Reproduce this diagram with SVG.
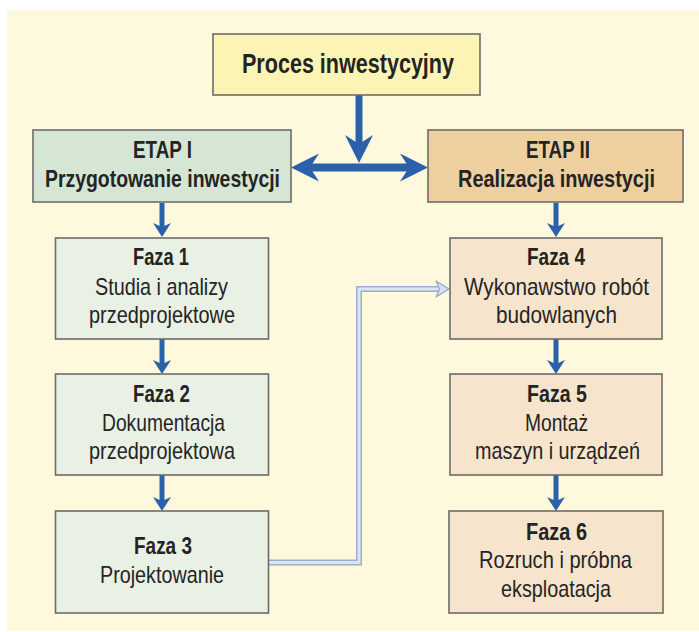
<svg xmlns="http://www.w3.org/2000/svg" width="699" height="632" viewBox="0 0 699 632">
  <style>
    .box { stroke: #6c6c6c; stroke-width: 1.6; }
    .top { fill: #fbf4b4; }
    .e1 { fill: #d6e6d4; }
    .e2 { fill: #eecf9f; }
    .f1 { fill: #e9f1e5; }
    .f2 { fill: #f6e4cd; }
    text { font-family: "Liberation Sans", Arial, sans-serif; fill: #242424; text-anchor: middle; }
    .b { font-weight: bold; }
    .t { font-size: 28px; }
    .h { font-size: 24px; }
    .fz { font-size: 23px; }
    .r { font-size: 24px; }
    .arr { stroke: #2b60aa; fill: none; }
  </style>
  <defs>
    <marker id="ah" markerUnits="userSpaceOnUse" viewBox="0 0 14 18" markerWidth="14" markerHeight="18" refX="6" refY="9" orient="auto">
      <path d="M0,0 L14,9 L0,18 L4,9 Z" fill="#2b60aa"/>
    </marker>
    <marker id="big" markerUnits="userSpaceOnUse" viewBox="0 0 28 28" markerWidth="28" markerHeight="28" refX="12" refY="14" orient="auto-start-reverse">
      <path d="M0,0 L28,14 L0,28 L9,14 Z" fill="#2b60aa"/>
    </marker>
  </defs>

  <rect x="7" y="10" width="692" height="621" fill="#fef8dc"/>

  <g id="connectors">
    <line class="arr" x1="359" y1="95" x2="359" y2="147" stroke-width="7" marker-end="url(#big)"/>
    <line class="arr" x1="307" y1="167.5" x2="412" y2="167.5" stroke-width="8" marker-start="url(#big)" marker-end="url(#big)"/>
    <line class="arr" x1="162" y1="203" x2="162" y2="229" stroke-width="5" marker-end="url(#ah)"/>
    <line class="arr" x1="162" y1="339" x2="162" y2="366" stroke-width="5" marker-end="url(#ah)"/>
    <line class="arr" x1="162" y1="475" x2="162" y2="503" stroke-width="5" marker-end="url(#ah)"/>
    <line class="arr" x1="556" y1="203" x2="556" y2="229" stroke-width="5" marker-end="url(#ah)"/>
    <line class="arr" x1="556" y1="339" x2="556" y2="366" stroke-width="5" marker-end="url(#ah)"/>
    <line class="arr" x1="556" y1="475" x2="556" y2="503" stroke-width="5" marker-end="url(#ah)"/>
    <g id="link-3-4">
      <path d="M269,562.5 H359 V289 H440" fill="none" stroke="#9cafcd" stroke-width="6"/>
      <path d="M269,562.5 H359 V289 H440" fill="none" stroke="#dbe5f4" stroke-width="3"/>
      <path d="M449,289 L436,281 L439.5,289 L436,297 Z" fill="#d4e0f2" stroke="#93a8c8" stroke-width="1.2" stroke-linejoin="round"/>
    </g>
  </g>

  <g id="proces">
    <rect class="box top" x="213" y="34" width="267" height="61"/>
    <text class="b t" x="348" y="73" textLength="212" lengthAdjust="spacingAndGlyphs">Proces inwestycyjny</text>
  </g>

  <g id="etap1">
    <rect class="box e1" x="33" y="130" width="258" height="72"/>
    <text class="b h" x="162.5" y="158" textLength="59" lengthAdjust="spacingAndGlyphs">ETAP I</text>
    <text class="b h" x="162.5" y="187" textLength="235" lengthAdjust="spacingAndGlyphs">Przygotowanie inwestycji</text>
  </g>

  <g id="etap2">
    <rect class="box e2" x="428" y="130" width="255" height="72"/>
    <text class="b h" x="558" y="158" textLength="64" lengthAdjust="spacingAndGlyphs">ETAP II</text>
    <text class="b h" x="556.5" y="187" textLength="197" lengthAdjust="spacingAndGlyphs">Realizacja inwestycji</text>
  </g>

  <g id="faza1">
    <rect class="box f1" x="55.5" y="238" width="213" height="101"/>
    <text class="b fz" x="161" y="265" textLength="56" lengthAdjust="spacingAndGlyphs">Faza 1</text>
    <text class="r" x="161.5" y="295" textLength="133" lengthAdjust="spacingAndGlyphs">Studia i analizy</text>
    <text class="r" x="162" y="323" textLength="146" lengthAdjust="spacingAndGlyphs">przedprojektowe</text>
  </g>

  <g id="faza2">
    <rect class="box f1" x="55.5" y="374" width="213" height="101"/>
    <text class="b fz" x="161.5" y="402" textLength="57" lengthAdjust="spacingAndGlyphs">Faza 2</text>
    <text class="r" x="163.5" y="431" textLength="123" lengthAdjust="spacingAndGlyphs">Dokumentacja</text>
    <text class="r" x="162" y="459" textLength="146" lengthAdjust="spacingAndGlyphs">przedprojektowa</text>
  </g>

  <g id="faza3">
    <rect class="box f1" x="55.5" y="511" width="213" height="102"/>
    <text class="b fz" x="163" y="554" textLength="58" lengthAdjust="spacingAndGlyphs">Faza 3</text>
    <text class="r" x="162" y="583" textLength="124" lengthAdjust="spacingAndGlyphs">Projektowanie</text>
  </g>

  <g id="faza4">
    <rect class="box f2" x="450" y="238" width="212" height="101"/>
    <text class="b fz" x="556" y="265" textLength="58" lengthAdjust="spacingAndGlyphs">Faza 4</text>
    <text class="r" x="556.5" y="295" textLength="185" lengthAdjust="spacingAndGlyphs">Wykonawstwo robót</text>
    <text class="r" x="556.5" y="323" textLength="121" lengthAdjust="spacingAndGlyphs">budowlanych</text>
  </g>

  <g id="faza5">
    <rect class="box f2" x="450" y="374" width="212" height="101"/>
    <text class="b fz" x="557" y="402" textLength="60" lengthAdjust="spacingAndGlyphs">Faza 5</text>
    <text class="r" x="556.5" y="431" textLength="63" lengthAdjust="spacingAndGlyphs">Montaż</text>
    <text class="r" x="557.5" y="459" textLength="165" lengthAdjust="spacingAndGlyphs">maszyn i urządzeń</text>
  </g>

  <g id="faza6">
    <rect class="box f2" x="449" y="511" width="214" height="102"/>
    <text class="b fz" x="556.5" y="540" textLength="61" lengthAdjust="spacingAndGlyphs">Faza 6</text>
    <text class="r" x="555.5" y="568" textLength="153" lengthAdjust="spacingAndGlyphs">Rozruch i próbna</text>
    <text class="r" x="556" y="597" textLength="110" lengthAdjust="spacingAndGlyphs">eksploatacja</text>
  </g>
</svg>
